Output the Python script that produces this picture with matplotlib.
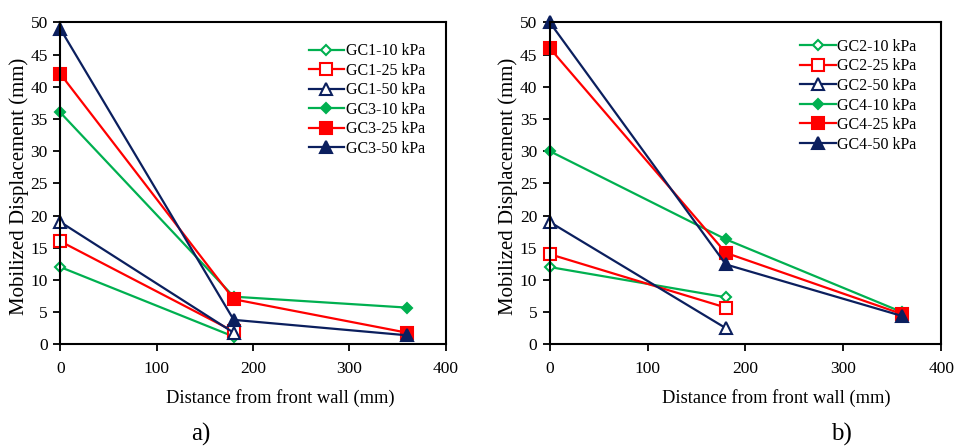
import matplotlib
matplotlib.use("Agg")
import matplotlib.pyplot as plt

plt.rcParams["font.family"] = ["Liberation Serif", "DejaVu Serif"]

GREEN = "#00b050"
RED = "#ff0000"
NAVY = "#0b1f5e"

# distances from the front wall (mm)
x_short = [0, 180]
x_long = [0, 180, 360]

# panel a)
gc1_10 = [12, 1.2]
gc1_25 = [16, 2.0]
gc1_50 = [19, 1.8]
gc3_10 = [36, 7.4, 5.7]
gc3_25 = [42, 7.0, 1.8]
gc3_50 = [49, 3.8, 1.4]

# panel b)
gc2_10 = [12, 7.3]
gc2_25 = [14, 5.7]
gc2_50 = [19, 2.5]
gc4_10 = [30, 16.3, 5.0]
gc4_25 = [46, 14.2, 4.7]
gc4_50 = [50, 12.4, 4.4]

labels_a = ["GC1-10 kPa", "GC1-25 kPa", "GC1-50 kPa",
            "GC3-10 kPa", "GC3-25 kPa", "GC3-50 kPa"]
labels_b = ["GC2-10 kPa", "GC2-25 kPa", "GC2-50 kPa",
            "GC4-10 kPa", "GC4-25 kPa", "GC4-50 kPa"]

styles = [
    dict(color=GREEN, marker="D", ms=5.5, mfc="white"),
    dict(color=RED, marker="s", ms=8, mfc="white"),
    dict(color=NAVY, marker="^", ms=8, mfc="white"),
    dict(color=GREEN, marker="D", ms=5.5),
    dict(color=RED, marker="s", ms=8.5),
    dict(color=NAVY, marker="^", ms=8.5),
]


def draw_panel(ax, series, labels, tag, xlab_x, tag_x, leg_anchor):
    for (xs, ys), lab, st in zip(series, labels, styles):
        ax.plot(xs, ys, lw=1.6, mew=1.5, label=lab, clip_on=False, **st)
    ax.set_xlim(0, 400)
    ax.set_ylim(0, 50)
    ax.set_xticks([0, 100, 200, 300, 400])
    ax.set_yticks(range(0, 51, 5))
    ax.tick_params(direction="out", length=5, width=1.3, labelsize=12.5,
                   pad=4)
    ax.tick_params(axis="x", pad=7)
    for sp in ax.spines.values():
        sp.set_linewidth(1.5)
    ax.set_ylabel("Mobilized Displacement (mm)", fontsize=15)
    ax.yaxis.set_label_coords(-0.082, 0.49)
    ax.set_xlabel("Distance from front wall (mm)", fontsize=13.3)
    ax.xaxis.set_label_coords(xlab_x, -0.14)
    ax.legend(loc="upper right", bbox_to_anchor=leg_anchor, frameon=False,
              fontsize=11.5, handlelength=2.2, handletextpad=0.1,
              labelspacing=0.22, borderaxespad=0.3)
    ax.text(tag_x, -0.28, tag, transform=ax.transAxes, fontsize=18,
            ha="center", va="center")


fig = plt.figure(figsize=(9.55, 4.47), dpi=100)
ax1 = fig.add_axes([0.0631, 0.2297, 0.4036, 0.7204])
ax2 = fig.add_axes([0.5756, 0.2297, 0.4100, 0.7204])

draw_panel(ax1,
           [(x_short, gc1_10), (x_short, gc1_25), (x_short, gc1_50),
            (x_long, gc3_10), (x_long, gc3_25), (x_long, gc3_50)],
           labels_a, "a)", 0.57, 0.365, (0.975, 0.970))
draw_panel(ax2,
           [(x_short, gc2_10), (x_short, gc2_25), (x_short, gc2_50),
            (x_long, gc4_10), (x_long, gc4_25), (x_long, gc4_50)],
           labels_b, "b)", 0.75, 0.745, (0.965, 0.983))
ax2.xaxis.set_label_coords(0.58, -0.14)

fig.savefig("out.png", dpi=100)
